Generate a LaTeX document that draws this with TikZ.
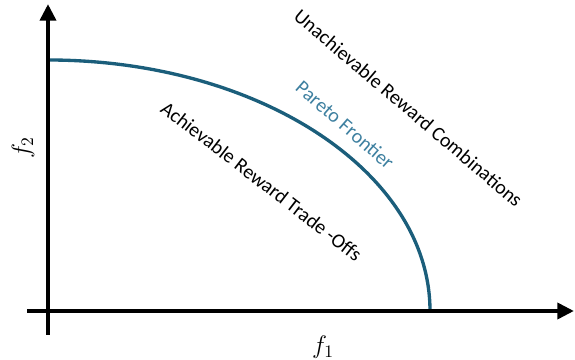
\documentclass[tikz,border=0pt]{standalone}
\usepackage{fontspec}
\setmainfont{Carlito}
\usetikzlibrary{arrows.meta}
\definecolor{frontier}{RGB}{27,94,123}
\definecolor{frontiertext}{RGB}{62,128,160}
\begin{document}
\begin{tikzpicture}[font=\fontsize{11.4}{13}\selectfont,
  axis/.style={line width=2.7pt, -{Triangle[length=9.5pt,width=9pt]}}]

\def\W{11.5}  
\def\H{7.2}   
\def\rx{7.64} 
\def\ry{5.02} 

\useasboundingbox (0,0) rectangle (\W,\H);

\coordinate (O)    at (0.96,0.98);
\coordinate (xmin) at (0.54,0.98);
\coordinate (xmax) at (\W-0.02,0.98);
\coordinate (ymin) at (0.96,0.50);
\coordinate (ymax) at (0.96,\H-0.08);

\draw[frontier, line width=1.9pt] ([yshift=\ry cm]O)
    arc[start angle=90, end angle=0, x radius=\rx, y radius=\ry];

\draw[axis] (xmin) -- (xmax);
\draw[axis] (ymin) -- (ymax);

\node[inner sep=1pt] (f1) at (6.46,0.26) {\Large $f_1$};
\node[rotate=90, inner sep=1pt] (f2) at (0.46,4.24) {\Large $f_2$};

\node[rotate=-40.4, inner sep=0pt] (unach) at (8.17,5.04) {Unachievable Reward Combinations};
\node[rotate=-41, inner sep=0pt, text=frontiertext] (pareto) at (6.90,4.70) {Pareto Frontier};
\node[rotate=-37.6, inner sep=0pt] (ach) at (5.23,3.58) {Achievable Reward Trade -Offs};
\end{tikzpicture}
\end{document}
